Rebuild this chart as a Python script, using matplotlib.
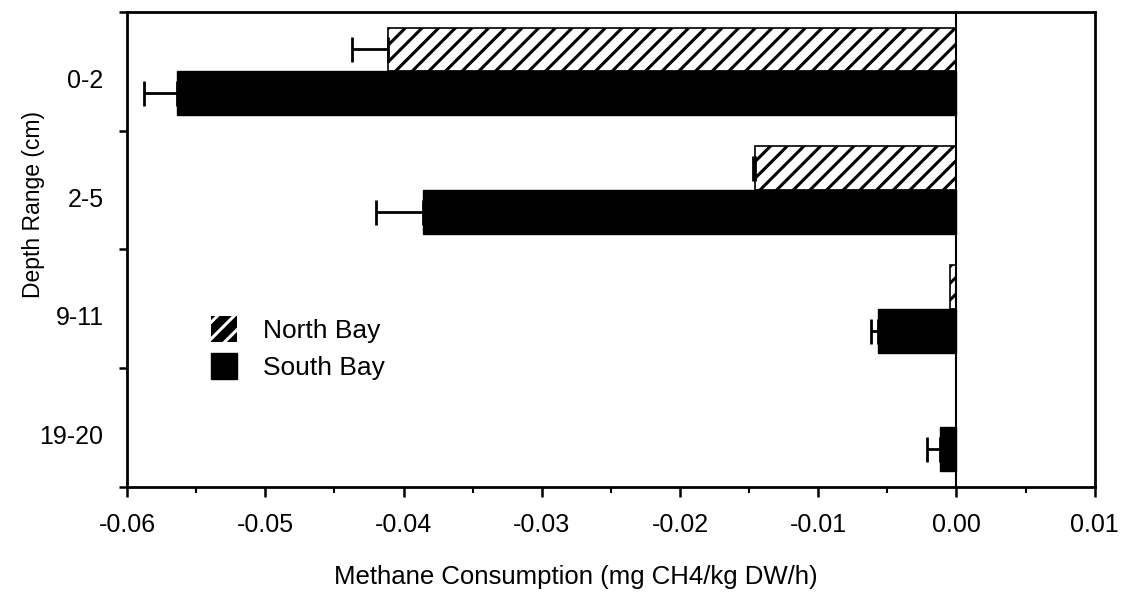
import numpy as np
import matplotlib
matplotlib.use("Agg")
import matplotlib.pyplot as plt
from matplotlib.patches import Patch
from matplotlib.ticker import MultipleLocator, FixedLocator

plt.rcParams['font.family'] = ['Liberation Sans', 'DejaVu Sans']
plt.rcParams['hatch.linewidth'] = 2.2

# --- data ---
depths = ['0-2', '2-5', '9-11', '19-20']
north_bay = [-0.0411, -0.0146, -0.0005, 0.0]
north_err = [0.0026, 0.0001, 0.0, 0.0]
south_bay = [-0.0564, -0.0386, -0.0057, -0.0012]
south_err = [0.0024, 0.0034, 0.0005, 0.0009]

fig = plt.figure(figsize=(11.25, 6.04), dpi=100)
ax = fig.add_axes([0.113, 0.194, 0.86, 0.786])

y = np.arange(len(depths))
h = 0.37

ax.barh(y - h / 2, north_bay, height=h, color='white', edgecolor='black',
        hatch='//', linewidth=1.2)
ax.barh(y + h / 2, south_bay, height=h, color='black', edgecolor='black')


def one_sided_err(vals, errs, ypos):
    # error bar only on the side away from zero, skip the ones with no error
    vals, errs = np.asarray(vals), np.asarray(errs)
    keep = errs > 0
    ax.errorbar(vals[keep], ypos[keep], xerr=[errs[keep], np.zeros(keep.sum())],
                fmt='none', ecolor='black', elinewidth=2, capsize=9, capthick=2)


one_sided_err(north_bay, north_err, y - h / 2)
one_sided_err(south_bay, south_err, y + h / 2)

ax.axvline(0, color='black', linewidth=1.5)

ax.set_xlim(-0.06, 0.01)
ax.set_ylim(3.5, -0.5)
ax.xaxis.set_major_locator(MultipleLocator(0.01))
ax.xaxis.set_minor_locator(MultipleLocator(0.005))
ax.set_xticklabels([f'{v:.2f}' for v in ax.get_xticks()])
ax.tick_params(axis='x', which='major', length=7.5, width=1.8, labelsize=18, pad=11)
ax.tick_params(axis='x', which='minor', length=4, width=1.5)

ax.set_yticks(y + 0.06)
ax.set_yticklabels(depths)
ax.yaxis.set_minor_locator(FixedLocator(np.arange(-0.5, 4.0, 1.0)))
ax.tick_params(axis='y', which='major', length=0, labelsize=18, pad=17)
ax.tick_params(axis='y', which='minor', length=6, width=1.8)

for sp in ax.spines.values():
    sp.set_linewidth(2)

fig.text(576 / 1125, 1 - 565 / 604, 'Methane Consumption (mg CH4/kg DW/h)',
         fontsize=18.5, ha='center', va='top')
fig.text(34 / 1125, 1 - 205 / 604, 'Depth Range (cm)', fontsize=16.5,
         rotation=90, ha='center', va='center')

handles = [Patch(facecolor='black', edgecolor='white', hatch='//', linewidth=0),
           Patch(facecolor='black', edgecolor='black')]
ax.legend(handles, ['North Bay', 'South Bay'], loc='upper left',
          bbox_to_anchor=(0.0726, 0.387), frameon=False, borderpad=0,
          fontsize=19, handlelength=1.0, handleheight=1.1, handletextpad=1.0,
          labelspacing=0.4)

fig.savefig('out.png', dpi=100)
